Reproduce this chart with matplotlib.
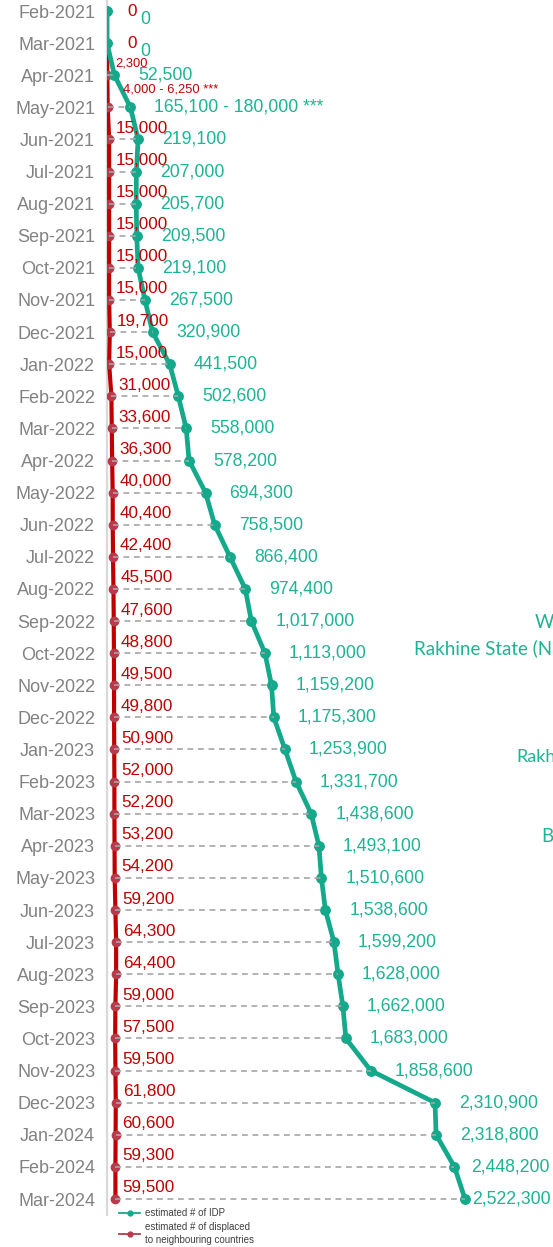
import matplotlib
matplotlib.use("Agg")
import matplotlib.pyplot as plt
from matplotlib.lines import Line2D

plt.rcParams['font.family'] = ['Liberation Sans', 'DejaVu Sans']

# months on the vertical axis
months = ["Feb-2021", "Mar-2021", "Apr-2021", "May-2021", "Jun-2021", "Jul-2021",
          "Aug-2021", "Sep-2021", "Oct-2021", "Nov-2021", "Dec-2021",
          "Jan-2022", "Feb-2022", "Mar-2022", "Apr-2022", "May-2022", "Jun-2022",
          "Jul-2022", "Aug-2022", "Sep-2022", "Oct-2022", "Nov-2022", "Dec-2022",
          "Jan-2023", "Feb-2023", "Mar-2023", "Apr-2023", "May-2023", "Jun-2023",
          "Jul-2023", "Aug-2023", "Sep-2023", "Oct-2023", "Nov-2023", "Dec-2023",
          "Jan-2024", "Feb-2024", "Mar-2024"]

# estimated # of IDP
idp = [0, 0, 52500, 165100, 219100, 207000, 205700, 209500, 219100, 267500, 320900,
       441500, 502600, 558000, 578200, 694300, 758500, 866400, 974400, 1017000,
       1113000, 1159200, 1175300, 1253900, 1331700, 1438600, 1493100, 1510600,
       1538600, 1599200, 1628000, 1662000, 1683000, 1858600, 2310900, 2318800,
       2448200, 2522300]
idp_labels = ["0", "0", "52,500", "165,100 - 180,000 ***"] + [f"{v:,}" for v in idp[4:]]

# estimated # displaced to neighbouring countries
refugees = [0, 0, 2300, 5000, 15000, 15000, 15000, 15000, 15000, 15000, 19700,
            15000, 31000, 33600, 36300, 40000, 40400, 42400, 45500, 47600, 48800,
            49500, 49800, 50900, 52000, 52200, 53200, 54200, 59200, 64300, 64400,
            59000, 57500, 59500, 61800, 60600, 59300, 59500]
refugee_labels = ["0", "0", "2,300", "4,000 - 6,250 ***"] + [f"{v:,}" for v in refugees[4:]]

GREEN = "#14A98B"
GREEN_TXT = "#1DB393"
RED = "#C00000"
RED_MK = "#B83A4B"
GREY = "#828282"

W, H = 553, 1247
fig = plt.figure(figsize=(W / 100, H / 100), dpi=100)

# axes placed so x=0 sits at px 107 and the largest IDP value at px 465
x0_px, xmax_px = 107, 465
row0_px, pitch = 11, (1199 - 11) / 37
ax = fig.add_axes([x0_px / W, 0, (W - x0_px) / W, 1])
ax.set_xlim(0, max(idp) * (W - x0_px) / (xmax_px - x0_px))
ax.set_ylim((H - row0_px) / pitch, -row0_px / pitch)
for s in ax.spines.values():
    s.set_visible(False)
ax.set_xticks([])

rows = list(range(len(months)))
ax.set_yticks(rows)
ax.set_yticklabels(months, fontsize=13, color=GREY)
ax.tick_params(axis='y', length=0, pad=8.5)

px = 0.72  # pixel -> points

# light axis line
ax.plot([0, 0], [-row0_px / pitch, 37.5], color="#D9D9D9", lw=1.6, zorder=0,
        clip_on=False)

ax.plot(refugees, rows, color=RED, lw=3.0, zorder=2)
ax.plot(refugees, rows, 'o', color=RED_MK, ms=6.0, zorder=2.5)
ax.plot(idp, rows, color=GREEN, lw=3.4, zorder=3)
ax.plot(idp, rows, 'o', color=GREEN, ms=6.8, zorder=3.5)

# dashed connectors red -> green, drawn over the markers
ax.hlines(rows, refugees, idp, colors="#A6A6A6", linestyles=(0, (3.5, 2.8)),
          lw=1.2, zorder=4)

# value labels
for i, (v, lab) in enumerate(zip(idp, idp_labels)):
    dx, dy = 24, 0
    if i < 2:
        dx, dy = 33, -8
    elif i == 36:
        dx = 17
    elif i == 37:
        dx = 7
    ax.annotate(lab, (v, i), xytext=(dx * px, dy * px), textcoords="offset points",
                ha="left", va="center", fontsize=12.7, color=GREEN_TXT,
                annotation_clip=False)

for i, (v, lab) in enumerate(zip(refugees, refugee_labels)):
    dx, dy, fs = 7, 11, 12.3
    if i < 2:
        dx, dy = 20, 0
    elif i == 2:
        dx, dy, fs = 8, 12, 9.3
    elif i == 3:
        dx, dy, fs = 15, 18, 9.3
    ax.annotate(lab, (v, i), xytext=(dx * px, dy * px), textcoords="offset points",
                ha="left", va="center", fontsize=fs, color=RED,
                annotation_clip=False)

# fragments of the neighbouring map panel at the right edge
side_font = ['Lato', 'DejaVu Sans']
fig.text(535 / W, 1 - 623 / H, "W", fontsize=13.5, color=GREEN_TXT, family=side_font,
         va="center")
fig.text(414 / W, 1 - 648 / H, "Rakhine State (N", fontsize=13.5, color=GREEN_TXT,
         family=side_font, va="center")
fig.text(516 / W, 1 - 757 / H, "Rakh", fontsize=13, color=GREEN_TXT,
         family=side_font, va="center")
fig.text(541 / W, 1 - 837 / H, "B", fontsize=13.5, color=GREEN_TXT, family=side_font,
         va="center")

# legend
handles = [Line2D([], [], color=GREEN, lw=1.3, marker='o', ms=3.5),
           Line2D([], [], color=RED_MK, lw=1.3, marker='o', ms=3.5)]
leg = fig.legend(handles, ["estimated # of IDP",
                           "estimated # of displaced\nto neighbouring countries"],
                 loc="upper left", bbox_to_anchor=(119 / W, 1 - 1208 / H),
                 frameon=False, fontsize=7, handlelength=2.2, handletextpad=0.45,
                 labelspacing=0.45, borderpad=0, borderaxespad=0)
for t in leg.get_texts():
    t.set_color("#404040")
    t.set_linespacing(1.35)

fig.savefig("out.png", dpi=100)
